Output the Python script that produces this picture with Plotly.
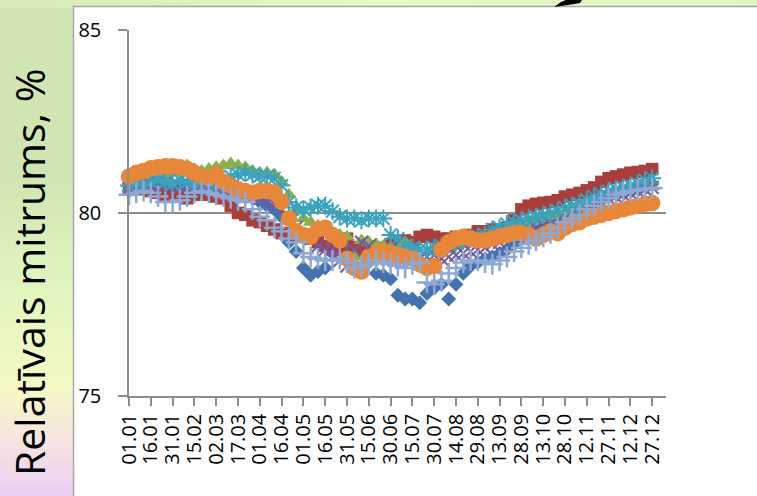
import base64
import plotly.graph_objects as go

# ---------------- data ----------------
dates = ["01.01", "16.01", "31.01", "15.02", "02.03", "17.03", "01.04", "16.04",
         "01.05", "16.05", "31.05", "15.06", "30.06", "15.07", "30.07", "14.08",
         "29.08", "13.09", "28.09", "13.10", "28.10", "12.11", "27.11", "12.12", "27.12"]
tick_idx = [i * 3 for i in range(len(dates))]
x_idx = list(range(73))

s1_diamond = [80.6, 80.65, 80.7, 80.7, 80.75, 80.75, 80.7, 80.65, 80.6, 80.65,
              80.7, 80.65, 80.6, 80.55, 80.5, 80.45, 80.45, 80.4, 80.3, 80.2,
              80.1, 79.9, 79.2, 78.95, 78.5, 78.3, 78.4, 78.5, 78.9, 79.0,
              79.1, 79.05, 78.85, 78.65, 78.35, 78.3, 78.2, 77.75, 77.65, 77.65,
              77.55, 77.8, 77.95, 78.05, 77.65, 78.05, 78.35, 78.55, 78.65, 78.75,
              78.8, 78.9, 79.0, 79.15, 79.3, 79.4, 79.5, 79.6, 79.7, 79.8,
              79.9, 80.0, 80.1, 80.2, 80.3, 80.4, 80.5, 80.55, 80.6, 80.65,
              80.7, 80.75, 80.8]
s2_square = [80.7, 80.7, 80.65, 80.6, 80.55, 80.5, 80.5, 80.45, 80.4, 80.5,
             80.55, 80.5, 80.45, 80.4, 80.2, 80.0, 79.95, 79.8, 79.75, 79.65,
             79.55, 79.45, 79.45, 79.4, 79.35, 79.3, 79.2, 79.1, 79.05, 79.0,
             79.3, 79.05, 79.0, 78.95, 79.0, 79.05, 79.15, 79.2, 79.25, 79.2,
             79.35, 79.4, 79.35, 79.3, 79.3, 79.35, 79.3, 79.4, 79.5, 79.5,
             79.55, 79.55, 79.6, 79.8, 80.1, 80.2, 80.25, 80.28, 80.3, 80.35,
             80.45, 80.5, 80.55, 80.62, 80.7, 80.85, 80.95, 81.0, 81.05, 81.1,
             81.12, 81.15, 81.2]
s3_triangle = [80.8, 80.85, 80.9, 80.95, 81.0, 81.05, 81.1, 81.2, 81.3, 81.2,
               81.15, 81.2, 81.25, 81.3, 81.35, 81.3, 81.25, 81.15, 81.1, 81.1,
               81.05, 80.85, 80.5, 80.1, 79.85, 79.75, 79.65, 79.55, 79.45, 79.4,
               79.35, 78.8, 79.25, 79.2, 79.15, 79.1, 79.05, 79.0, 79.2, 78.85,
               78.7, 78.5, 78.45, 78.9, 79.0, 79.1, 79.15, 79.2, 79.25, 79.3,
               79.35, 79.4, 79.5, 79.6, 79.7, 79.75, 79.8, 79.85, 79.9, 79.95,
               80.0, 80.05, 80.15, 80.2, 80.3, 80.35, 80.45, 80.5, 80.55, 80.6,
               80.65, 80.7, 80.72]
s4_x = [80.65, 80.7, 80.75, 80.75, 80.8, 80.8, 80.75, 80.7, 80.75, 80.7,
        80.7, 80.65, 80.7, 80.65, 80.6, 80.55, 80.5, 80.45, 80.4, 80.3,
        80.25, 80.1, 79.9, 79.6, 79.4, 79.3, 79.1, 79.0, 79.0, 78.7,
        78.55, 79.0, 79.2, 79.1, 78.9, 78.85, 78.8, 78.8, 78.75, 78.7,
        78.75, 78.8, 78.85, 78.75, 78.8, 78.85, 78.9, 78.95, 79.0, 79.05,
        79.15, 79.2, 79.3, 79.4, 79.5, 79.55, 79.6, 79.65, 79.7, 79.8,
        79.85, 79.95, 80.05, 80.1, 80.2, 80.3, 80.4, 80.45, 80.5, 80.55,
        80.6, 80.65, 80.7]
s5_star = [80.75, 80.8, 80.75, 80.85, 80.9, 80.85, 80.8, 80.9, 80.85, 80.8,
           80.85, 80.8, 80.75, 80.9, 81.0, 81.05, 81.1, 81.05, 81.0, 81.0,
           80.95, 80.75, 80.3, 80.15, 80.1, 80.15, 80.2, 80.2, 80.05, 79.9,
           79.85, 79.85, 79.8, 79.85, 79.85, 79.85, 79.4, 79.3, 79.1, 79.05,
           79.0, 79.0, 79.05, 79.1, 79.15, 79.2, 79.25, 79.3, 79.35, 79.4,
           79.55, 79.6, 79.7, 79.75, 79.8, 79.85, 79.9, 79.95, 80.0, 80.05,
           80.15, 80.2, 80.25, 80.35, 80.45, 80.5, 80.6, 80.65, 80.7, 80.75,
           80.8, 80.9, 80.95]
s6_circle = [81.0, 81.1, 81.15, 81.22, 81.25, 81.28, 81.28, 81.25, 81.2, 81.1,
             81.0, 80.95, 81.05, 80.85, 80.75, 80.65, 80.6, 80.55, 80.6, 80.6,
             80.55, 80.3, 79.85, 79.5, 79.4, 79.35, 79.55, 79.6, 79.4, 79.25,
             78.75, 78.5, 78.4, 78.8, 78.9, 78.95, 78.9, 78.85, 78.8, 78.75,
             78.6, 78.5, 78.55, 79.0, 79.2, 79.3, 79.35, 79.3, 79.25, 79.25,
             79.3, 79.35, 79.4, 79.45, 79.45, 79.4, 79.3, 79.4, 79.5, 79.45,
             79.6, 79.7, 79.75, 79.85, 79.9, 79.95, 80.0, 80.05, 80.1, 80.15,
             80.2, 80.25, 80.27]
s7_plus = [80.5, 80.55, 80.6, 80.55, 80.45, 80.3, 80.3, 80.35, 80.45, 80.55,
           80.6, 80.55, 80.5, 80.45, 80.4, 80.35, 80.3, 80.1, 79.9, 79.8,
           79.6, 79.5, 79.3, 79.2, 78.9, 78.8, 78.75, 78.7, 78.7, 78.75,
           78.65, 78.5, 78.55, 78.6, 78.7, 78.65, 78.6, 78.55, 78.5, 78.6,
           78.65, 78.1, 78.05, 78.15, 78.35, 78.5, 78.65, 78.7, 78.7, 78.65,
           78.6, 78.7, 78.8, 78.95, 79.05, 79.15, 79.25, 79.35, 79.45, 79.6,
           79.75, 79.85, 79.95, 80.1, 80.2, 80.3, 80.4, 80.5, 80.55, 80.6,
           80.62, 80.65, 80.68]

series = [
    ("S1", s1_diamond, "diamond", "#4472AC", 11.5, 0),
    ("S2", s2_square, "square", "#A83F3C", 12.5, 0),
    ("S3", s3_triangle, "triangle-up", "#8CAE4C", 14, 0),
    ("S4", s4_x, "x-thin-open", "#7459A0", 13, 2),
    ("S5", s5_star, "asterisk-open", "#3AA2BD", 15, 2),
    ("S6", s6_circle, "circle", "#E8873A", 16.5, 0),
    ("S7", s7_plus, "cross-thin-open", "#8EA8D5", 15, 2.5),
]

fig = go.Figure()
for name, vals, sym, col, size, lw in series:
    mk = dict(symbol=sym, color=col, size=size)
    if lw:
        mk["line"] = dict(color=col, width=lw)
    else:
        mk["line"] = dict(width=0)
    fig.add_trace(go.Scatter(x=x_idx, y=vals, mode="markers", name=name,
                             marker=mk, cliponaxis=False, showlegend=False))

# background: gradient slide + white chart area + black arrow tip
svg = """<svg xmlns='http://www.w3.org/2000/svg' width='757' height='496' viewBox='0 0 757 496'>
<defs>
<linearGradient id='g' x1='0' y1='0' x2='0' y2='1'>
<stop offset='0' stop-color='#d1e7b3'/>
<stop offset='0.35' stop-color='#d0e6b2'/>
<stop offset='0.6' stop-color='#e2f6bf'/>
<stop offset='0.78' stop-color='#f6f9c4'/>
<stop offset='0.9' stop-color='#f6e2e4'/>
<stop offset='1' stop-color='#eccff4'/>
</linearGradient>
<linearGradient id='h' x1='0' y1='0' x2='1' y2='0'>
<stop offset='0' stop-color='#d6ebb8'/>
<stop offset='0.5' stop-color='#eaf7c6'/>
<stop offset='1' stop-color='#e2f3c6'/>
</linearGradient>
</defs>
<rect x='0' y='0' width='757' height='496' fill='url(#g)'/>
<rect x='0' y='0' width='757' height='8' fill='url(#h)'/>
<rect x='73.5' y='6.5' width='700' height='500' fill='white' stroke='#a8a8a8' stroke-width='1.5'/>
<polygon points='554,7 561,2 566,0 582,0 580,3 568,5' fill='black'/>
</svg>"""
src = "data:image/svg+xml;base64," + base64.b64encode(svg.encode()).decode()

L, R, T, B = 129, 91, 30, 100
W, H = 757, 496
pw, ph = W - L - R, H - T - B

fig.add_layout_image(dict(source=src, xref="paper", yref="paper",
                          x=-L / pw, y=1 + T / ph, sizex=W / pw, sizey=H / ph,
                          xanchor="left", yanchor="top", sizing="stretch",
                          layer="below"))

fig.add_annotation(text="Relatīvais mitrums, %", textangle=-90,
                   xref="paper", yref="paper", x=(29 - L) / pw, y=(H - B - 272) / ph,
                   xanchor="center", yanchor="middle", showarrow=False,
                   font=dict(family="Open Sans", size=41, color="#000000"))

axis_col = "#8c8c8c"
fig.update_layout(
    width=W, height=H,
    margin=dict(l=L, r=R, t=T, b=B),
    paper_bgcolor="white",
    plot_bgcolor="rgba(0,0,0,0)",
    font=dict(family="Open Sans", size=20, color="#000000"),
    xaxis=dict(range=[0, 73.9], tickmode="array", tickvals=tick_idx, ticktext=dates,
               tickangle=-90, showgrid=False, zeroline=False,
               showline=True, linecolor=axis_col, linewidth=1.5,
               ticks="outside", ticklen=8, tickwidth=1.5, tickcolor=axis_col,
               ticklabelstandoff=0, tickfont=dict(size=20)),
    yaxis=dict(range=[75, 85], tickvals=[75, 80, 85], showgrid=True,
               gridcolor=axis_col, gridwidth=1.5, zeroline=False,
               showline=True, linecolor=axis_col, linewidth=1.5,
               ticks="outside", ticklen=9, tickwidth=1.5, tickcolor=axis_col,
               ticklabelstandoff=13, tickfont=dict(size=20)),
)

fig.write_html("out.html", config={"displayModeBar": False},
               post_script="document.body.style.margin='0';document.body.style.padding='0';")
